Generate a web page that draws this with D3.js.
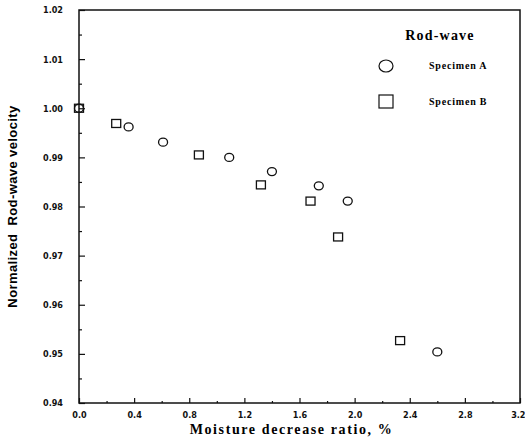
<!DOCTYPE html>
<html>
<head>
    <script src="https://d3js.org/d3.v7.min.js"></script>
    <style>
        body { margin: 0; background: #fff; }
        .tick text { font-family: "Liberation Sans Narrow", "DejaVu Sans Condensed", sans-serif; font-weight: bold; font-size: 9px; fill: #111; }
        .domain { display: none; }
    </style>
</head>
<body>
    <div id="chart"></div>
    <script>
        // Specimen A (circles)
        var xA = [0, 0.36, 0.61, 1.09, 1.40, 1.74, 1.95, 2.60];
        var yA = [1.000, 0.9962, 0.9931, 0.9900, 0.9871, 0.9842, 0.9811, 0.9504];
        // Specimen B (squares)
        var xB = [0, 0.27, 0.87, 1.32, 1.68, 1.88, 2.33];
        var yB = [1.000, 0.9969, 0.9905, 0.9844, 0.9811, 0.9738, 0.9527];

        var xTicks = [0.0, 0.4, 0.8, 1.2, 1.6, 2.0, 2.4, 2.8, 3.2];
        var yTicks = [0.94, 0.95, 0.96, 0.97, 0.98, 0.99, 1.00, 1.01, 1.02];

        var margin = { top: 10, right: 5, bottom: 40, left: 79 };
        var width = 525 - margin.left - margin.right;
        var height = 443 - margin.top - margin.bottom;

        var svg = d3.select("#chart")
            .append("svg")
            .attr("width", 525)
            .attr("height", 443)
            .append("g")
            .attr("transform", "translate(" + margin.left + "," + margin.top + ")");

        var x = d3.scaleLinear().domain([0, 3.2]).range([0, width]);
        var y = d3.scaleLinear().domain([0.94, 1.02]).range([height, 0]);

        // minor ticks
        var xMinor = d3.range(0.2, 3.2, 0.4);
        var yMinor = d3.range(0.945, 1.02, 0.01);

        svg.append("g")
            .attr("transform", "translate(0," + height + ")")
            .call(d3.axisBottom(x).tickValues(xMinor).tickSize(-2).tickFormat(""));
        svg.append("g")
            .call(d3.axisLeft(y).tickValues(yMinor).tickSize(-3).tickFormat(""));

        // major ticks with labels
        svg.append("g")
            .attr("class", "x-axis")
            .attr("transform", "translate(0," + height + ")")
            .call(d3.axisBottom(x).tickValues(xTicks).tickSize(-5).tickPadding(9).tickFormat(d3.format(".1f")));
        svg.append("g")
            .attr("class", "y-axis")
            .call(d3.axisLeft(y).tickValues(yTicks).tickSize(-6).tickPadding(16).tickFormat(d3.format(".2f")));

        // last x label sits at the right edge, keep it inside the page
        svg.selectAll(".x-axis .tick text")
            .filter(function(d) { return d === 3.2; })
            .attr("text-anchor", "end")
            .attr("dx", 5);

        svg.selectAll(".tick line").attr("stroke", "#111").attr("stroke-width", 1.2);

        // frame
        svg.append("rect")
            .attr("x", 0).attr("y", 0)
            .attr("width", width).attr("height", height)
            .attr("fill", "none")
            .attr("stroke", "#111")
            .attr("stroke-width", 1.5);

        // circles (Specimen A)
        svg.selectAll(".ptA")
            .data(xA)
            .enter()
            .append("ellipse")
            .attr("class", "ptA")
            .attr("cx", function(d) { return x(d); })
            .attr("cy", function(d, i) { return y(yA[i]); })
            .attr("rx", 4.5)
            .attr("ry", 4)
            .attr("fill", "none")
            .attr("stroke", "#111")
            .attr("stroke-width", 1.3);

        // squares (Specimen B)
        svg.selectAll(".ptB")
            .data(xB)
            .enter()
            .append("rect")
            .attr("class", "ptB")
            .attr("x", function(d) { return x(d) - 4.5; })
            .attr("y", function(d, i) { return y(yB[i]) - 4; })
            .attr("width", 9)
            .attr("height", 8)
            .attr("fill", "none")
            .attr("stroke", "#111")
            .attr("stroke-width", 1.3);

        // legend
        var lg = svg.append("g").attr("transform", "translate(" + (386 - margin.left) + ",0)");
        lg.append("text")
            .attr("x", 54).attr("y", 30)
            .attr("text-anchor", "middle")
            .attr("font-family", "Liberation Serif, serif")
            .attr("font-weight", "bold")
            .attr("font-size", "14px")
            .attr("letter-spacing", "1.2px")
            .text("Rod-wave");
        lg.append("ellipse")
            .attr("cx", 0).attr("cy", 56)
            .attr("rx", 7).attr("ry", 6)
            .attr("fill", "none").attr("stroke", "#111").attr("stroke-width", 1.2);
        lg.append("rect")
            .attr("x", -7).attr("y", 85)
            .attr("width", 14).attr("height", 13)
            .attr("fill", "none").attr("stroke", "#111").attr("stroke-width", 1.2);
        lg.append("text")
            .attr("x", 43).attr("y", 59)
            .attr("font-family", "Liberation Serif, serif")
            .attr("font-weight", "bold")
            .attr("font-size", "10px")
            .attr("letter-spacing", "0.8px")
            .text("Specimen A");
        lg.append("text")
            .attr("x", 43).attr("y", 95)
            .attr("font-family", "Liberation Serif, serif")
            .attr("font-weight", "bold")
            .attr("font-size", "10px")
            .attr("letter-spacing", "0.8px")
            .text("Specimen B");

        // axis titles
        svg.append("text")
            .attr("x", width / 2 - 8)
            .attr("y", height + 31)
            .attr("text-anchor", "middle")
            .attr("font-family", "Liberation Serif, serif")
            .attr("font-weight", "bold")
            .attr("font-size", "14px")
            .attr("letter-spacing", "1.6px")
            .text("Moisture decrease ratio, %");

        svg.append("text")
            .attr("transform", "translate(" + (-margin.left + 17) + "," + (height / 2) + ") rotate(-90)")
            .attr("text-anchor", "middle")
            .attr("font-family", "Liberation Sans, sans-serif")
            .attr("font-weight", "bold")
            .attr("font-size", "13px")
            .attr("letter-spacing", "0.4px")
            .style("white-space", "pre")
            .text("Normalized  Rod-wave velocity");
    </script>
</body>
</html>
